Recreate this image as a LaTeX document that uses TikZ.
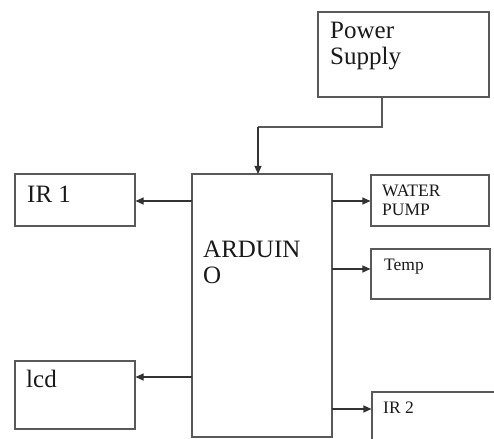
\documentclass[tikz,border=0pt]{standalone}
\usepackage{fontspec}
\setmainfont{Liberation Serif}
\usetikzlibrary{arrows.meta}
\begin{document}
\begin{tikzpicture}[x=1pt,y=-1pt,
  box/.style={draw=black!65,line width=1.1pt,rectangle,inner sep=0pt},
  big/.style={anchor=base west,inner sep=0pt,font=\fontsize{25}{27}\selectfont,text=black!90},
  small/.style={anchor=base west,inner sep=0pt,font=\fontsize{17.5}{19}\selectfont,text=black!90},
  arr/.style={draw=black!80,line width=1.1pt,-{Triangle[length=8pt,width=7pt]}},
  wire/.style={draw=black!65,line width=1.1pt}]
\useasboundingbox (0,0) rectangle (494,438);
\clip (0,0) rectangle (494,438);
% boxes
\node[box,minimum width=171,minimum height=85] (ps) at (403.5,54.5) {};
\node[box,minimum width=140,minimum height=263] (ard) at (262,305.5) {};
\node[box,minimum width=120,minimum height=52] (ir1) at (75,200) {};
\node[box,minimum width=120,minimum height=68] (lcd) at (75,395) {};
\node[box,minimum width=118,minimum height=51] (wp) at (430,200.5) {};
\node[box,minimum width=119,minimum height=50] (temp) at (430.5,274) {};
\node[box,minimum width=126,minimum height=70] (ir2) at (435,427) {};
% texts
\node[big] (tpower) at (330,39) {Power};
\node[big] (tsupply) at (330,65) {Supply};
\node[big] (tard1) at (203,257) {ARDUIN};
\node[big] (tard2) at (203,283) {O};
\node[big] (tir1) at (27,202) {IR 1};
\node[big] (tlcd) at (26,387) {lcd};
\node[small] (twater) at (382,196) {WATER};
\node[small] (tpump) at (382,215) {PUMP};
\node[small] (ttemp) at (384,270) {Temp};
\node[small] (tir2) at (383,413) {IR 2};
% connectors
\coordinate (psout) at (382,97);
\coordinate (bend1) at (382,127);
\coordinate (bend2) at (258,127);
\coordinate (ardin) at (258,174);
\draw[wire] (psout) -- (bend1) -- (bend2);
\draw[arr] (bend2) -- (ardin);
\coordinate (a1) at (192,201);
\coordinate (a2) at (192,377);
\coordinate (a3) at (332,201);
\coordinate (a4) at (332,269);
\coordinate (a5) at (332,409);
\draw[arr] (a1) -- (a1 -| ir1.east);
\draw[arr] (a2) -- (a2 -| lcd.east);
\draw[arr] (a3) -- (a3 -| wp.west);
\draw[arr] (a4) -- (a4 -| temp.west);
\draw[arr] (a5) -- (a5 -| ir2.west);
\end{tikzpicture}
\end{document}
